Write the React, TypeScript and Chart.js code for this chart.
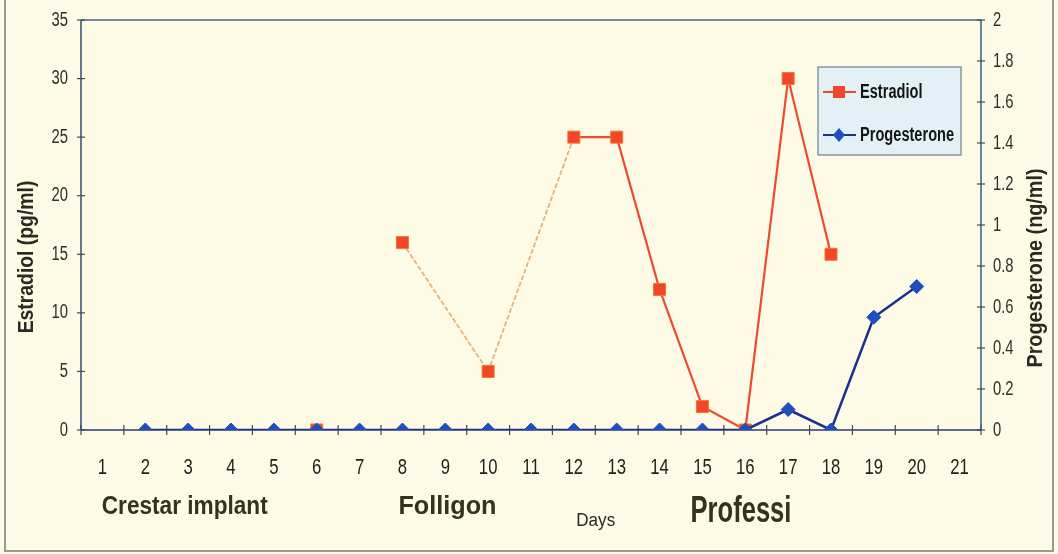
import React, { useEffect, useRef } from "react";
import { Chart, registerables } from "chart.js";

Chart.register(...registerables);

// Days of the protocol
const days = ["1", "2", "3", "4", "5", "6", "7", "8", "9", "10", "11", "12", "13", "14", "15", "16", "17", "18", "19", "20", "21"];

// Estradiol (pg/ml); day 6 baseline is kept apart (not joined to the later samples)
const estradiol = [null, null, null, null, null, null, null, 16, null, 5, null, 25, 25, 12, 2, 0, 30, 15, null, null, null];
const estradiolBaseline = [null, null, null, null, null, 0, null, null, null, null, null, null, null, null, null, null, null, null, null, null, null];

// Progesterone (ng/ml)
const progesterone = [null, 0, 0, 0, 0, 0, 0, 0, 0, 0, 0, 0, 0, 0, 0, 0, 0.1, 0, 0.55, 0.7, null];

const estradiolTicks = [0, 5, 10, 15, 20, 25, 30, 35];
const progesteroneTicks = [0, 0.2, 0.4, 0.6, 0.8, 1, 1.2, 1.4, 1.6, 1.8, 2];

const BG = "#fdfbe6";
const RED = "#ee4a2c";
const RED_FILL = "#f2452a";
const TAN = "#e2b47e";
const NAVY = "#1c2f8e";
const BLUE_FILL = "#1f4fbf";
const SANS = '"Liberation Sans", Arial, sans-serif';

// Text drawn with a horizontal squeeze to get a narrow face
function drawText(
  ctx: CanvasRenderingContext2D,
  text: string,
  x: number,
  y: number,
  font: string,
  color: string,
  opts: { align?: CanvasTextAlign; rotate?: number; sx?: number } = {}
) {
  ctx.save();
  ctx.translate(x, y);
  if (opts.rotate) ctx.rotate(opts.rotate);
  if (opts.sx) ctx.scale(opts.sx, 1);
  ctx.font = font;
  ctx.fillStyle = color;
  ctx.textAlign = opts.align || "center";
  ctx.textBaseline = "middle";
  ctx.fillText(text, 0, 0);
  ctx.restore();
}

// A segment touching a missing day belongs to a faint dashed connector
const isBridge = (c: any) => !!((c.p0 && c.p0.skip) || (c.p1 && c.p1.skip));

const decor = {
  id: "decor",
  beforeDraw(chart: any) {
    const { ctx, width, height } = chart;
    ctx.save();
    ctx.fillStyle = BG;
    ctx.fillRect(0, 0, width, height);
    ctx.restore();
  },
  beforeDatasetsDraw(chart: any) {
    const { ctx, chartArea: a, scales } = chart;
    ctx.save();
    // frame
    ctx.lineWidth = 1.5;
    ctx.strokeStyle = "#4b5f86";
    ctx.beginPath();
    ctx.moveTo(a.left, a.top);
    ctx.lineTo(a.right, a.top);
    ctx.stroke();
    ctx.strokeStyle = "#2f4d6e";
    ctx.beginPath();
    ctx.moveTo(a.left, a.top);
    ctx.lineTo(a.left, a.bottom);
    ctx.stroke();
    ctx.strokeStyle = "#2e6070";
    ctx.beginPath();
    ctx.moveTo(a.right, a.top);
    ctx.lineTo(a.right, a.bottom);
    ctx.stroke();
    ctx.strokeStyle = "#2a3a78";
    ctx.beginPath();
    ctx.moveTo(a.left, a.bottom);
    ctx.lineTo(a.right, a.bottom);
    ctx.stroke();

    // tick marks crossing the axes, with their labels
    ctx.lineWidth = 1.2;
    ctx.strokeStyle = "#3d4a5e";
    estradiolTicks.forEach((v) => {
      const py = scales.y.getPixelForValue(v);
      ctx.beginPath();
      ctx.moveTo(a.left - 4, py);
      ctx.lineTo(a.left + 4, py);
      ctx.stroke();
      drawText(ctx, String(v), a.left - 13, py, `20px ${SANS}`, "#2f2f2a", { align: "right", sx: 0.74 });
    });
    progesteroneTicks.forEach((v) => {
      const py = scales.y1.getPixelForValue(v);
      ctx.beginPath();
      ctx.moveTo(a.right - 4, py);
      ctx.lineTo(a.right + 4, py);
      ctx.stroke();
      drawText(ctx, String(v), a.right + 12, py, `20px ${SANS}`, "#2f2f2a", { align: "left", sx: 0.74 });
    });
    for (let i = 0; i <= days.length; i++) {
      const px = scales.x.getPixelForValue(i - 0.5);
      ctx.beginPath();
      ctx.moveTo(px, a.bottom - 5);
      ctx.lineTo(px, a.bottom + 5);
      ctx.stroke();
    }
    days.forEach((d, i) => {
      drawText(ctx, d, scales.x.getPixelForValue(i), a.bottom + 38, `22px ${SANS}`, "#22221c", { sx: 0.76 });
    });
    ctx.restore();
  },
  afterDraw(chart: any) {
    const { ctx, scales, width, height } = chart;
    const x = scales.x;

    // axis titles
    drawText(ctx, "Estradiol (pg/ml)", 27, 257, `bold 22px ${SANS}`, "#2a2a22", { rotate: -Math.PI / 2, sx: 0.88 });
    drawText(ctx, "Progesterone (ng/ml)", 1036, 268, `bold 22px ${SANS}`, "#2a2a22", { rotate: -Math.PI / 2, sx: 0.9 });

    // treatment annotations and x title
    drawText(ctx, "Crestar implant", x.getPixelForValue(1.92), 507, `bold 26px ${SANS}`, "#33331f", { sx: 0.87 });
    drawText(ctx, "Folligon", x.getPixelForValue(8.05), 507, `bold 26px ${SANS}`, "#33331f", { sx: 0.97 });
    drawText(ctx, "Professi", x.getPixelForValue(14.9), 512, `bold 36px ${SANS}`, "#33331f", { sx: 0.71 });
    drawText(ctx, "Days", x.getPixelForValue(11.51), 521, `19px ${SANS}`, "#2a2a22", { sx: 0.9 });

    // legend box
    const lx = 818, ly = 67, lw = 143, lh = 88;
    ctx.save();
    ctx.fillStyle = "#e3f1f6";
    ctx.fillRect(lx, ly, lw, lh);
    ctx.strokeStyle = "#6d7f96";
    ctx.lineWidth = 1.2;
    ctx.strokeRect(lx, ly, lw, lh);
    const rows = [
      { label: chart.data.datasets[0].label, color: RED, fill: RED_FILL, shape: "rect", y: ly + 25 },
      { label: chart.data.datasets[2].label, color: NAVY, fill: BLUE_FILL, shape: "diamond", y: ly + 68 },
    ];
    rows.forEach((r) => {
      ctx.strokeStyle = r.color;
      ctx.lineWidth = 2;
      ctx.beginPath();
      ctx.moveTo(lx + 5, r.y);
      ctx.lineTo(lx + 38, r.y);
      ctx.stroke();
      ctx.fillStyle = r.fill;
      ctx.beginPath();
      const cx = lx + 21;
      if (r.shape === "rect") {
        ctx.rect(cx - 6, r.y - 6, 12, 12);
      } else {
        ctx.moveTo(cx, r.y - 7);
        ctx.lineTo(cx + 6, r.y);
        ctx.lineTo(cx, r.y + 7);
        ctx.lineTo(cx - 6, r.y);
        ctx.closePath();
      }
      ctx.fill();
      drawText(ctx, r.label, lx + 42, r.y, `bold 20px ${SANS}`, "#151515", { align: "left", sx: 0.73 });
    });

    // page edge
    ctx.strokeStyle = "#9a9a90";
    ctx.lineWidth = 2;
    ctx.beginPath();
    ctx.moveTo(5, 0);
    ctx.lineTo(5, height - 3);
    ctx.lineTo(width - 5, height - 3);
    ctx.lineTo(width - 5, 0);
    ctx.stroke();
    ctx.restore();
  },
};

export default function App() {
  const ref = useRef<HTMLCanvasElement | null>(null);

  useEffect(() => {
    if (!ref.current) return;
    const chart = new Chart(ref.current, {
      type: "line",
      data: {
        labels: days,
        datasets: [
          {
            label: "Estradiol",
            data: estradiol,
            yAxisID: "y",
            spanGaps: true,
            borderColor: RED,
            borderWidth: 2,
            pointStyle: "rect",
            pointRadius: 8.5,
            pointBackgroundColor: RED_FILL,
            pointBorderColor: "#f07a2a",
            pointBorderWidth: 1,
            segment: {
              borderColor: (c: any) => (isBridge(c) ? TAN : RED),
              borderDash: (c: any) => (isBridge(c) ? [5, 2] : []),
              borderWidth: (c: any) => (isBridge(c) ? 1.8 : 2.2),
            },
            order: 2,
          },
          {
            label: "Estradiol baseline",
            data: estradiolBaseline,
            yAxisID: "y",
            showLine: false,
            pointStyle: "rect",
            pointRadius: 8.5,
            pointBackgroundColor: RED_FILL,
            pointBorderColor: "#f07a2a",
            pointBorderWidth: 1,
            order: 3,
          },
          {
            label: "Progesterone",
            data: progesterone,
            yAxisID: "y1",
            borderColor: NAVY,
            borderWidth: 2.5,
            pointStyle: "rectRot",
            pointRadius: 7,
            pointBackgroundColor: BLUE_FILL,
            pointBorderColor: BLUE_FILL,
            pointBorderWidth: 1,
            order: 1,
          },
        ],
      },
      options: {
        animation: false,
        responsive: true,
        maintainAspectRatio: false,
        layout: { padding: { top: 20, left: 0, right: 0, bottom: 0 } },
        plugins: { legend: { display: false }, tooltip: { enabled: false } },
        scales: {
          x: {
            offset: true,
            grid: { display: false, drawTicks: false, offset: true },
            border: { display: false },
            ticks: { display: false },
            afterFit: (s: any) => {
              s.height = 124;
            },
          },
          y: {
            position: "left",
            min: 0,
            max: 35,
            grid: { display: false, drawTicks: false },
            border: { display: false },
            ticks: { display: false, stepSize: 5 },
            afterFit: (s: any) => {
              s.width = 81;
            },
          },
          y1: {
            position: "right",
            min: 0,
            max: 2,
            grid: { display: false, drawTicks: false },
            border: { display: false },
            ticks: { display: false, stepSize: 0.2 },
            afterFit: (s: any) => {
              s.width = 77;
            },
          },
        },
      },
      plugins: [decor],
    });
    return () => chart.destroy();
  }, []);

  return (
    <div style={{ position: "fixed", left: 0, top: 0, width: 1058, height: 554 }}>
      <canvas ref={ref} />
    </div>
  );
}
